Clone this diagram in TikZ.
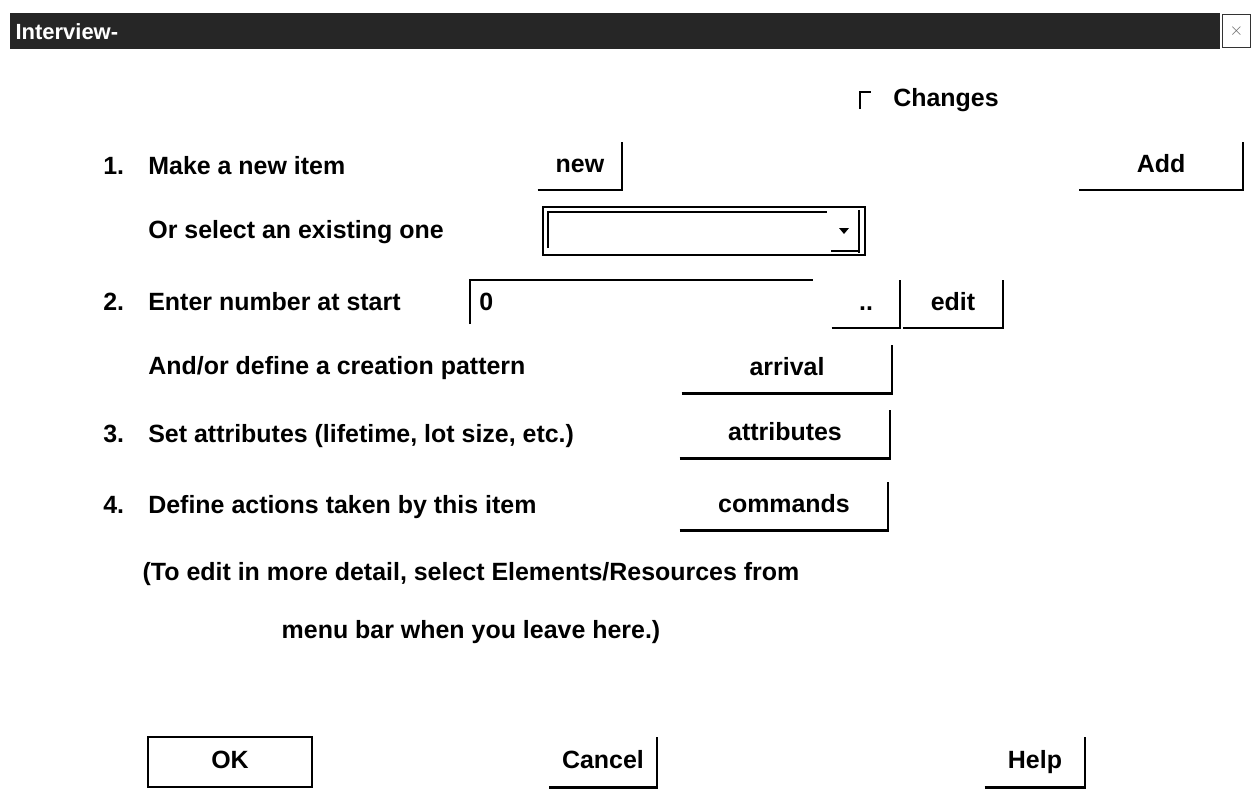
\documentclass[tikz,border=0pt]{standalone}
\usepackage{fontspec}
\setmainfont{Liberation Sans}
\usetikzlibrary{positioning,calc}

\begin{document}
\begin{tikzpicture}[x=0.02cm, y=-0.02cm,
  lbl/.style={anchor=west, font=\fontsize{14.2}{17}\selectfont\bfseries, inner sep=0pt, text height=0.72em, text depth=0pt},
  btn/.style={font=\fontsize{14.2}{17}\selectfont\bfseries, minimum height=0.96cm, inner sep=0pt, text height=0.72em, text depth=0pt},
  edge/.style={line width=1.3pt},
  frame/.style={draw, line width=1.2pt}
]
\useasboundingbox[fill=white] (0,0) rectangle (1251,806);

% title bar
\node[fill=black!85, minimum width=24.2cm, minimum height=0.72cm, anchor=north west, inner sep=0pt] (bar) at (10,13) {};
\node[anchor=west, text=white, font=\fontsize{12.5}{14}\selectfont\bfseries, inner sep=0pt] (title) at ([xshift=3pt]bar.west) {Interview-};
\node[draw=black!80, fill=white, minimum width=0.56cm, minimum height=0.66cm, inner sep=0pt, anchor=north west, text=black!60] (close) at (1222,14) {$\times$};

% changes box
\coordinate (chk) at (860,92);
\draw[edge] ($(chk)+(0,17)$) -- (chk) -- ++(11,0);
\node[lbl] (changes) at (893,100) {Changes};

% steps
\node[lbl] (n1) at (103,168) {1.};
\node[lbl] (t1) at (148,168) {Make a new item};
\node[lbl] (t1b) at (148,232) {Or select an existing one};
\node[lbl] (n2) at (103,304) {2.};
\node[lbl] (t2) at (148,304) {Enter number at start};
\node[lbl] (t2b) at (148,368) {And/or define a creation pattern};
\node[lbl] (n3) at (103,436) {3.};
\node[lbl] (t3) at (148,436) {Set attributes (lifetime, lot size, etc.)};
\node[lbl] (n4) at (103,507) {4.};
\node[lbl] (t4) at (148,507) {Define actions taken by this item};

% buttons
\node[btn, minimum width=1.68cm] (new) at (580,166) {new};
\node[btn, minimum width=3.26cm] (add) at (1161,166) {Add};
\node[btn, minimum width=1.36cm] (dots) at (866,304) {..};
\node[btn, minimum width=1.98cm] (edit) at (953,304) {edit};
\node[btn, minimum width=4.2cm] (arrival) at (787,369) {arrival};
\node[btn, minimum width=4.2cm] (attr) at (785,434) {attributes};
\node[btn, minimum width=4.16cm] (cmds) at (784,506) {commands};
\node[btn, minimum width=2.14cm, minimum height=1cm] (cancel) at (603,762) {Cancel};
\node[btn, minimum width=2cm, minimum height=1cm] (help) at (1035,762) {Help};
\foreach \b in {new,add,dots,edit,arrival,attr,cmds,cancel,help}
  \draw[edge] (\b.south west) -- (\b.south east) -- (\b.north east);
\node[frame, btn, minimum width=3.28cm, minimum height=1cm] (ok) at (230,762) {OK};

% existing item list
\node[frame, minimum width=6.44cm, minimum height=0.96cm, inner sep=0pt] (combo) at (704,231) {};
\draw[edge] ($(combo.south west)+(6,-8)$) -- ($(combo.north west)+(6,6)$) -- ($(combo.north east)+(-39,6)$);
\draw[edge] ($(combo.north east)+(-7,4)$) -- ($(combo.south east)+(-7,-3)$);
\draw[edge] ($(combo.south east)+(-35,-5)$) -- ($(combo.south east)+(-7,-5)$);
\fill ($(combo.east)+(-27,-3)$) -- ++(10,0) -- ++(-5,6) -- cycle;

% number field
\node[minimum width=6.84cm, minimum height=0.96cm, inner sep=0pt, anchor=north west] (field) at (470,280) {};
\draw[edge] ($(field.north west)+(0,44)$) -- (field.north west) -- (field.north east);
\node[lbl] (zero) at (479,304) {0};

% hint
\node[font=\fontsize{14.2}{17}\selectfont\bfseries, inner sep=0pt] (note1) at (471,574) {(To edit in more detail, select Elements/Resources from};
\node[font=\fontsize{14.2}{17}\selectfont\bfseries, inner sep=0pt] (note2) at (471,632) {menu bar when you leave here.)};
\end{tikzpicture}
\end{document}
